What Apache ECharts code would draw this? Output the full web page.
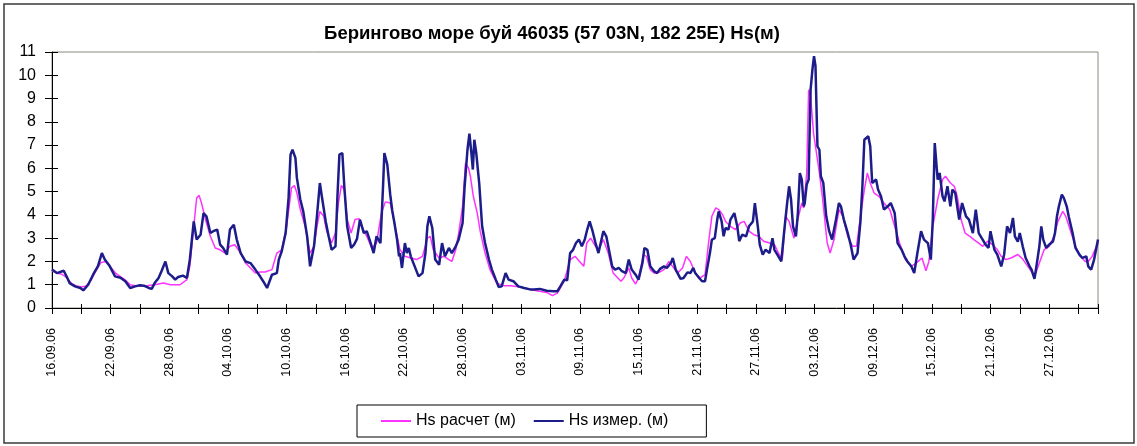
<!DOCTYPE html>
<html>
<head>
<meta charset="utf-8">
<script src="https://cdn.jsdelivr.net/npm/echarts@6/dist/echarts.min.js"></script>
<style>
  html, body { margin: 0; padding: 0; background: #fff; }
  #chart { width: 1137px; height: 446px; }
</style>
</head>
<body>
<div id="chart"></div>
<script>
// время в сутках от 16.09.06
var dateLabels = ['16.09.06', '22.09.06', '28.09.06', '04.10.06', '10.10.06', '16.10.06',
  '22.10.06', '28.10.06', '03.11.06', '09.11.06', '15.11.06', '21.11.06', '27.11.06',
  '03.12.06', '09.12.06', '15.12.06', '21.12.06', '27.12.06'];

// Hs расчет (м)
var calcDays = [0, 0.5, 1, 1.5, 2, 2.5, 3, 3.5, 4, 4.5, 5, 5.5, 6, 6.5, 7, 7.5, 8, 8.7, 9.7, 10.5,
  11.4, 12.1, 13.1, 13.8, 14.1, 14.5, 14.8, 15.05, 15.3, 15.7, 16.2, 16.7, 17.2, 17.7, 18.2, 18.7,
  19.3, 19.8, 20.3, 20.8, 21.3, 21.8, 22.5, 23.0, 23.5, 24.0, 24.5, 24.8, 25.05, 25.4, 25.9, 26.4,
  26.8, 27.1, 27.4, 27.8, 28.1, 28.6, 29.0, 29.3, 29.6, 29.9, 30.2, 30.6, 31.0, 31.4, 31.7, 32.2,
  32.7, 33.2, 33.7, 34.1, 34.6, 34.9, 35.3, 35.6, 36.1, 36.7, 37.3, 37.9, 38.4, 38.7, 39.0, 39.6,
  40.1, 40.6, 40.9, 41.3, 41.6, 42.0, 42.3, 42.6, 42.8, 43.1, 43.5, 43.8, 44.3, 44.8, 45.5, 46.2,
  46.9, 47.9, 48.9, 49.3, 50.6, 51.2, 51.7, 52.4, 53.0, 53.5, 54.1, 54.4, 54.7, 55.1, 55.6, 55.9,
  56.4, 56.9, 57.4, 58.2, 58.5, 59.0, 59.3, 59.7, 60.0, 60.5, 60.8, 61.2, 61.6, 62.2, 62.6, 63.1,
  64.0, 64.5, 64.9, 65.3, 65.8, 66.3, 66.8, 67.2, 67.5, 67.9, 68.2, 68.6, 68.9, 69.4, 69.9, 70.4,
  70.8, 71.3, 71.8, 72.3, 72.8, 73.4, 73.9, 74.4, 74.7, 75.05, 75.4, 75.9, 76.2, 76.7, 76.9, 77.2,
  77.4, 77.6, 77.9, 78.1, 78.5, 78.8, 79.3, 79.6, 80.0, 80.5, 80.9, 81.4, 81.9, 82.3, 82.7, 83.1,
  83.4, 83.7, 84.1, 84.6, 85.1, 85.7, 86.2, 86.7, 87.3, 87.9, 88.4, 89.0, 89.4, 89.7, 90.1, 90.6,
  91.1, 91.4, 91.9, 92.3, 92.6, 93.0, 93.4, 93.9, 94.3, 94.8, 95.2, 95.7, 96.2, 96.7, 97.1, 97.6,
  98.1, 98.8, 99.3, 99.8, 100.3, 100.6, 101.0, 101.5, 102.0, 102.5, 102.9, 103.4, 103.7, 104.2,
  104.7, 105.2, 105.7, 106.0, 106.4, 106.7, 107.0];
var calcHs = [1.6, 1.5, 1.45, 1.3, 1.05, 0.95, 0.9, 0.95, 1.2, 1.6, 1.95, 2.0, 1.75, 1.5, 1.35, 1.2, 1.0, 0.95, 0.96, 1.0,
  1.07, 1.0, 1.0, 1.22, 1.79, 3.5, 4.73, 4.84, 4.5, 3.8, 3.08, 2.58, 2.5, 2.36, 2.65, 2.72,
  2.36, 1.93, 1.72, 1.5, 1.55, 1.55, 1.65, 2.36, 2.5, 3.5, 5.16, 5.26, 4.94, 4.23, 3.5, 2.36,
  2.65, 3.5, 4.15, 3.94, 3.3, 2.79, 3.22, 4.51, 5.27, 5.09, 3.8, 3.22, 3.8, 3.84, 3.5, 3.08,
  2.58, 2.79, 4.08, 4.56, 4.51, 3.94, 3.08, 2.5, 2.22, 2.15, 2.08, 2.22, 3.0, 3.08, 2.5, 2.15,
  2.22, 2.08, 2.0, 2.5, 3.22, 4.37, 6.23, 6.02, 5.66, 4.8, 4.08, 3.3, 2.36, 1.65, 1.07, 0.96,
  0.96, 0.9, 0.8, 0.76, 0.67, 0.53, 0.64, 1.15, 2.08, 2.22, 1.93, 1.79, 2.79, 3.0, 2.65, 2.5,
  2.94, 2.36, 1.5, 1.15, 1.29, 1.72, 1.29, 1.03, 1.29, 2.29, 2.22, 1.65, 1.5, 1.55, 1.65, 2.0,
  1.5, 1.72, 2.22, 2.0, 1.5, 1.29, 1.43, 2.94, 3.94, 4.3, 4.23, 4.01, 3.72, 3.51, 3.37, 3.65,
  3.72, 3.3, 3.15, 3.08, 2.87, 2.79, 2.72, 2.29, 2.08, 3.94, 3.72, 3.0, 3.65, 4.51, 4.3, 5.8,
  9.38, 9.1, 7.52, 6.95, 5.8, 4.8, 2.79, 2.36, 2.94, 4.23, 3.94, 3.08, 2.65, 2.65, 3.94, 5.09,
  5.8, 5.37, 4.94, 4.8, 4.51, 4.23, 3.51, 2.79, 2.08, 1.79, 1.93, 2.15, 1.6, 2.0, 3.51, 4.66,
  5.52, 5.66, 5.37, 5.23, 4.8, 3.8, 3.22, 3.08, 2.94, 2.79, 2.65, 2.87, 2.72, 2.51, 2.22, 2.08,
  2.15, 2.3, 2.1, 1.8, 1.5, 1.45, 1.93, 2.51, 2.65, 3.08, 3.72, 4.15, 3.94, 3.3,
  2.65, 2.22, 2.0, 2.0, 2.22, 2.51, 2.79];

// Hs измер. (м)
var measDays = [0, 0.5, 1.2, 1.5, 1.8, 2.35, 2.9, 3.2, 3.7, 4.2, 4.7, 5.1, 5.4, 5.9, 6.45, 7.0, 7.5, 8.0, 8.5, 9.0,
  9.4, 9.9, 10.2, 10.5, 10.9, 11.2, 11.6, 11.9, 12.3, 12.6, 12.9, 13.4, 13.8, 14.1, 14.5, 14.8, 15.2,
  15.5, 15.8, 16.2, 16.5, 16.9, 17.2, 17.5, 17.9, 18.2, 18.6, 18.9, 19.3, 19.8, 20.3, 20.8, 21.3,
  21.6, 22.0, 22.2, 22.5, 23.0, 23.2, 23.5, 23.9, 24.2, 24.4, 24.6, 24.9, 25.05, 25.4, 25.7, 26.1,
  26.4, 26.8, 27.1, 27.4, 27.6, 28.0, 28.3, 28.6, 29.0, 29.2, 29.4, 29.7, 29.9, 30.2, 30.6, 30.9,
  31.2, 31.5, 31.9, 32.2, 32.6, 32.9, 33.2, 33.6, 33.85, 34.0, 34.3, 34.6, 34.8, 35.0, 35.3, 35.5,
  35.6, 35.8, 36.1, 36.3, 36.5, 36.7, 37.1, 37.5, 37.9, 38.2, 38.4, 38.6, 38.9, 39.2, 39.6, 39.9,
  40.2, 40.6, 40.9, 41.3, 41.6, 42.0, 42.2, 42.5, 42.7, 42.9, 43.05, 43.2, 43.4, 43.7, 44.0, 44.3,
  44.7, 45.0, 45.4, 45.7, 46.0, 46.4, 46.7, 47.2, 47.7, 48.3, 48.9, 49.3, 49.9, 50.6, 51.3, 51.7,
  52.0, 52.4, 52.7, 53.0, 53.3, 53.6, 53.9, 54.2, 54.5, 54.75, 55.0, 55.3, 55.6, 55.9, 56.4, 56.7,
  56.9, 57.3, 57.6, 58.0, 58.3, 58.7, 59.0, 59.3, 59.7, 60.0, 60.4, 60.6, 60.9, 61.2, 61.6, 61.9,
  62.2, 62.6, 62.9, 63.3, 63.5, 63.8, 64.0, 64.3, 64.6, 65.0, 65.3, 65.6, 65.8, 66.2, 66.5, 66.8,
  67.0, 67.3, 67.5, 67.8, 68.05, 68.2, 68.5, 68.7, 68.9, 69.2, 69.4, 69.8, 70.1, 70.3, 70.6, 71.0,
  71.3, 71.7, 71.9, 72.2, 72.4, 72.7, 73.0, 73.4, 73.7, 73.9, 74.2, 74.6, 74.9, 75.2, 75.4, 75.6,
  75.8, 76.1, 76.3, 76.5, 76.7, 76.9, 77.0, 77.2, 77.4, 77.6, 77.8, 77.95, 78.1, 78.3, 78.5, 78.65,
  78.9, 79.2, 79.5, 79.8, 80.2, 80.5, 80.7, 81.0, 81.4, 81.7, 82.0, 82.4, 82.7, 82.9, 83.1, 83.5,
  83.7, 83.9, 84.3, 84.5, 84.8, 85.1, 85.5, 85.8, 86.2, 86.5, 86.9, 87.2, 87.5, 87.9, 88.2, 88.5,
  88.9, 89.2, 89.6, 89.9, 90.1, 90.3, 90.6, 90.8, 91.1, 91.3, 91.6, 91.9, 92.1, 92.4, 92.8, 93.1,
  93.5, 93.8, 94.2, 94.5, 94.8, 95.2, 95.5, 95.8, 96.0, 96.4, 96.7, 97.1, 97.4, 97.7, 98.0, 98.3,
  98.5, 98.8, 99.0, 99.3, 99.6, 100.0, 100.2, 100.5, 100.7, 101.0, 101.2, 101.4, 101.7, 102.0, 102.4,
  102.6, 102.8, 103.0, 103.3, 103.5, 103.8, 104.0, 104.4, 104.7, 105.1, 105.4, 105.8, 106.0, 106.3,
  106.6, 106.8, 107.0];
var measHs = [1.65, 1.5, 1.6, 1.35, 1.07, 0.93, 0.86, 0.76, 1.0, 1.43, 1.8, 2.36, 2.08, 1.8, 1.36, 1.3, 1.15, 0.86, 0.93, 0.98,
  0.96, 0.86, 0.82, 1.07, 1.29, 1.58, 2.0, 1.5, 1.36, 1.22, 1.33, 1.39, 1.29, 2.08, 3.72, 2.94, 3.15,
  4.08, 3.94, 3.22, 3.3, 3.37, 2.72, 2.58, 2.29, 3.37, 3.58, 2.94, 2.36, 2.0, 1.93, 1.65, 1.35,
  1.15, 0.86, 0.79, 1.43, 1.5, 2.08, 2.44, 3.22, 4.73, 6.59, 6.8, 6.45, 5.59, 4.66, 4.15, 3.08,
  1.79, 2.65, 3.94, 5.37, 4.8, 3.72, 3.08, 2.5, 2.65, 4.8, 6.59, 6.66, 5.23, 3.5, 2.58, 2.72,
  2.97, 3.8, 3.22, 3.3, 2.79, 2.36, 3.08, 2.79, 5.09, 6.66, 6.16, 4.87, 4.2, 3.72, 2.94, 2.22,
  2.36, 1.72, 2.79, 2.36, 2.58, 2.22, 1.79, 1.36, 1.5, 2.36, 3.51, 3.94, 3.44, 2.08, 1.86, 2.79,
  2.22, 2.58, 2.36, 2.65, 2.94, 3.65, 5.16, 6.8, 7.49, 6.66, 5.95, 7.23, 6.66, 5.37, 3.51, 2.79,
  2.08, 1.65, 1.22, 0.9, 0.93, 1.5, 1.22, 1.15, 0.93, 0.86, 0.8, 0.79, 0.82, 0.74, 0.72, 0.72,
  0.93, 1.22, 1.19, 2.36, 2.5, 2.79, 2.94, 2.65, 2.94, 3.37, 3.72, 3.3, 2.79, 2.36, 3.3, 3.08,
  2.65, 1.79, 1.65, 1.72, 1.58, 1.5, 2.08, 1.65, 1.43, 1.22, 1.93, 2.58, 2.5, 1.79, 1.58, 1.5,
  1.68, 1.79, 1.72, 1.93, 2.15, 1.65, 1.58, 1.25, 1.29, 1.53, 1.5, 1.72, 1.5, 1.29, 1.15, 1.15,
  1.65, 2.36, 2.94, 3.0, 3.8, 4.15, 3.72, 3.08, 3.44, 3.37, 3.8, 4.08, 3.51, 2.87, 3.15, 3.08,
  3.51, 3.72, 4.51, 3.51, 2.72, 2.29, 2.51, 2.36, 3.0, 2.5, 2.29, 2.0, 3.3, 4.51, 5.23, 4.66,
  3.51, 3.08, 4.08, 5.8, 5.52, 4.37, 4.51, 5.3, 5.52, 9.38, 10.3, 10.82, 10.4, 6.95, 6.8, 5.66,
  5.37, 3.94, 3.3, 2.94, 3.8, 4.51, 4.37, 3.8, 3.22, 2.72, 2.08, 2.36, 3.72, 5.23, 7.23, 7.38,
  6.95, 5.37, 5.52, 5.09, 4.8, 4.23, 4.37, 4.51, 4.08, 2.79, 2.51, 2.22, 2.0, 1.79, 1.5, 2.3,
  3.3, 2.94, 2.79, 2.08, 3.8, 7.09, 5.52, 5.8, 4.8, 4.58, 5.23, 4.37, 5.09, 4.94, 3.8, 4.51,
  3.94, 3.8, 3.22, 4.23, 3.22, 2.94, 2.72, 2.58, 3.3, 2.51, 2.29, 1.79, 2.3, 3.51, 3.22, 3.87,
  3.08, 2.85, 3.22, 2.65, 2.15, 1.79, 1.65, 1.25, 1.79, 2.65, 3.51, 2.94, 2.58, 2.72, 2.87,
  3.22, 3.94, 4.37, 4.87, 4.73, 4.37, 3.94, 3.22, 2.58, 2.29, 2.15, 2.22, 1.79, 1.65,
  2.08, 2.51, 2.94];

var yTicks = [0, 1, 2, 3, 4, 5, 6, 7, 8, 9, 10, 11];

function pairs(xs, ys) {
  return xs.map(function (x, i) { return [x, ys[i]]; });
}

var myChart = echarts.init(document.getElementById('chart'));
var font = 'Liberation Sans, Arial, sans-serif';

var option = {
  backgroundColor: '#fff',
  animation: false,
  title: {
    text: 'Берингово море буй 46035 (57 03N, 182 25E) Hs(м)',
    left: 547,
    top: 19,
    textAlign: 'center',
    textStyle: { fontFamily: font, fontSize: 18.5, fontWeight: 'bold', color: '#000' }
  },
  // внешняя рамка
  graphic: [{
    type: 'rect',
    shape: { x: 4, y: 4, width: 1130, height: 439 },
    style: { fill: 'none', stroke: '#3a3a3a', lineWidth: 1.5 },
    silent: true
  }],
  grid: {
    left: 52, right: 39, top: 52, bottom: 138,
    show: true, borderColor: '#8a8a80', borderWidth: 1, backgroundColor: '#fff'
  },
  legend: {
    left: 357,
    top: 405,
    padding: [8, 38, 8, 24],
    icon: 'rect',
    itemWidth: 30,
    itemHeight: 2,
    itemGap: 18,
    borderColor: '#000',
    borderWidth: 1,
    backgroundColor: '#fff',
    textStyle: { fontFamily: font, fontSize: 16, color: '#000', lineHeight: 16 },
    data: ['Hs расчет (м)', 'Hs измер. (м)']
  },
  xAxis: [{
    type: 'value',
    min: 0,
    max: 107,
    interval: 3,
    axisLine: { lineStyle: { color: '#000', width: 1 } },
    axisTick: { length: 6, lineStyle: { color: '#000' } },
    splitLine: { show: false },
    axisLabel: {
      rotate: 90,
      margin: 20,
      fontFamily: font,
      fontSize: 12.5,
      color: '#000',
      formatter: function (v) {
        return v % 6 === 0 && dateLabels[v / 6] ? dateLabels[v / 6] : '';
      }
    }
  }, {
    type: 'value',
    position: 'bottom',
    min: 0,
    max: 107,
    interval: 3,
    axisLine: { show: false },
    axisTick: { inside: true, length: 4, lineStyle: { color: '#000' } },
    axisLabel: { show: false },
    splitLine: { show: false }
  }],
  yAxis: [{
    type: 'value',
    min: yTicks[0],
    max: yTicks[yTicks.length - 1],
    interval: 1,
    axisLine: { show: true, lineStyle: { color: '#000', width: 1 } },
    axisTick: { show: true, length: 7, lineStyle: { color: '#000' } },
    splitLine: { show: false },
    axisLabel: { margin: 16, fontFamily: font, fontSize: 16, color: '#000' }
  }, {
    type: 'value',
    position: 'left',
    min: yTicks[0],
    max: yTicks[yTicks.length - 1],
    interval: 1,
    axisLine: { show: false },
    axisTick: { show: true, inside: true, length: 6, lineStyle: { color: '#000' } },
    axisLabel: { show: false },
    splitLine: { show: false }
  }],
  series: [{
    name: 'Hs расчет (м)',
    type: 'line',
    xAxisIndex: 0,
    yAxisIndex: 0,
    symbol: 'none',
    color: '#ff33ff',
    lineStyle: { color: '#ff33ff', width: 1.5 },
    data: pairs(calcDays, calcHs)
  }, {
    name: 'Hs измер. (м)',
    type: 'line',
    xAxisIndex: 0,
    yAxisIndex: 0,
    symbol: 'none',
    color: '#1c1c8a',
    lineStyle: { color: '#1c1c8a', width: 2.5 },
    data: pairs(measDays, measHs)
  }]
};

myChart.setOption(option);
</script>
</body>
</html>
